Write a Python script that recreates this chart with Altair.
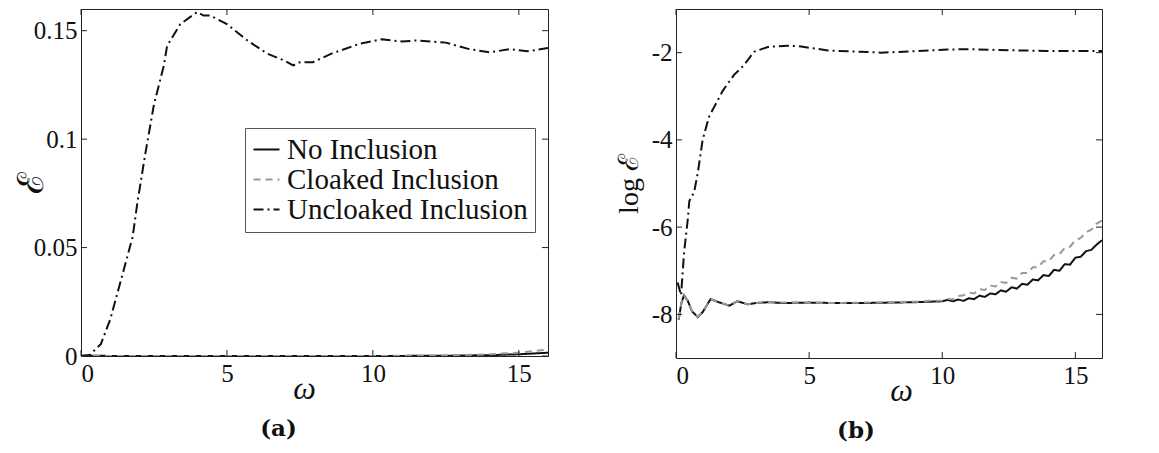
import altair as alt
import pandas as pd

NO = "No Inclusion"
CL = "Cloaked Inclusion"
UN = "Uncloaked Inclusion"
SERIES = [NO, CL, UN]

# ---------- panel (a): E versus omega ----------
a_unc_w = [0, 0.3, 0.68, 1.0, 1.47, 1.77, 1.93, 2.2, 2.5, 2.84, 2.95, 3.4, 3.98, 4.2,
           4.43, 5.0, 5.7, 6.37, 7.0, 7.27, 7.5, 7.95, 8.6, 9.55, 10.3, 11.0, 11.5,
           12.5, 13.3, 14.0, 14.7, 15.3, 16.0]
a_unc_e = [0, 0.0005, 0.0055, 0.0168, 0.040, 0.055, 0.0705, 0.093, 0.116, 0.134, 0.143,
           0.153, 0.1586, 0.157, 0.157, 0.153, 0.1455, 0.1395, 0.136, 0.134, 0.1355,
           0.1355, 0.1395, 0.144, 0.146, 0.145, 0.1455, 0.1445, 0.1415, 0.140, 0.1415,
           0.1405, 0.142]
a_no_w = [0, 2, 4, 6, 8, 10, 12, 13, 14, 15, 16]
a_no_e = [0.0001, 0, 0, 0, 0, 0, 0.0001, 0.0002, 0.0004, 0.0008, 0.0015]
a_cl_w = [0, 2, 4, 6, 8, 10, 12, 13, 14, 15, 16]
a_cl_e = [0.0001, 0, 0, 0, 0, 0, 0.0002, 0.0004, 0.0008, 0.0016, 0.0030]

# ---------- panel (b): log E versus omega ----------
b_no_w = [0.1, 0.2, 0.3, 0.45, 0.6, 0.82, 1.0, 1.3, 1.6, 2.0, 2.3, 2.7, 3.0, 3.5, 4.0,
          5.0, 6.0, 7.0, 8.0, 9.0, 9.5, 10.0, 10.2, 10.4, 10.6, 10.8, 11.0, 11.2, 11.4,
          11.6, 11.8, 12.0, 12.2, 12.4, 12.6, 12.8, 13.0, 13.2, 13.4, 13.6, 13.8, 14.0,
          14.2, 14.4, 14.6, 14.8, 15.0, 15.2, 15.4, 15.6, 15.8, 16.0]
b_no_e = [-8.12, -7.75, -7.56, -7.70, -7.93, -8.06, -7.95, -7.65, -7.72, -7.80, -7.70,
          -7.77, -7.74, -7.72, -7.74, -7.73, -7.74, -7.74, -7.73, -7.72, -7.71, -7.70,
          -7.67, -7.70, -7.66, -7.69, -7.63, -7.65, -7.57, -7.60, -7.52, -7.54, -7.45,
          -7.48, -7.38, -7.41, -7.30, -7.32, -7.20, -7.22, -7.10, -7.12, -6.98, -7.00,
          -6.85, -6.86, -6.70, -6.68, -6.55, -6.52, -6.40, -6.30]
b_cl_w = [0.1, 0.2, 0.3, 0.45, 0.6, 0.82, 1.0, 1.3, 1.6, 2.0, 2.3, 2.7, 3.0, 3.5, 4.0,
          5.0, 6.0, 7.0, 8.0, 9.0, 9.5, 10.0, 10.2, 10.4, 10.6, 10.8, 11.0, 11.2, 11.4,
          11.6, 11.8, 12.0, 12.2, 12.4, 12.6, 12.8, 13.0, 13.2, 13.4, 13.6, 13.8, 14.0,
          14.2, 14.4, 14.6, 14.8, 15.0, 15.2, 15.4, 15.6, 15.8, 16.0]
b_cl_e = [-8.10, -7.74, -7.56, -7.70, -7.93, -8.05, -7.95, -7.65, -7.72, -7.80, -7.70,
          -7.77, -7.74, -7.72, -7.73, -7.73, -7.74, -7.73, -7.72, -7.71, -7.69, -7.68,
          -7.64, -7.66, -7.58, -7.56, -7.50, -7.52, -7.42, -7.44, -7.34, -7.36, -7.26,
          -7.28, -7.16, -7.18, -7.05, -7.05, -6.92, -6.92, -6.78, -6.78, -6.64, -6.62,
          -6.48, -6.45, -6.30, -6.25, -6.12, -6.06, -5.92, -5.85]
b_unc_w = [0.06, 0.19, 0.3, 0.45, 0.5, 0.68, 0.82, 1.0, 1.24, 1.43, 1.76, 2.18, 2.55,
           2.93, 3.45, 4.2, 4.7, 5.7, 6.5, 7.7, 8.9, 10.2, 11.0, 12.1, 13.0, 13.9, 15.0,
           16.0]
b_unc_e = [-7.27, -7.56, -6.60, -5.78, -5.40, -5.20, -4.75, -4.00, -3.47, -3.25, -2.87,
           -2.51, -2.29, -1.98, -1.87, -1.84, -1.86, -1.95, -1.97, -2.00, -1.97, -1.93,
           -1.92, -1.94, -1.95, -1.96, -1.96, -1.96]

x_ticks = [0, 5, 10, 15]
a_y_ticks = [0, 0.05, 0.1, 0.15]
b_y_ticks = [-8, -6, -4, -2]

FONT = "Liberation Serif"


def frame(series_list):
    rows = []
    for name, ws, es in series_list:
        for w, e in zip(ws, es):
            rows.append({"s": name, "w": w, "e": e})
    return pd.DataFrame(rows)


def panel(df, ydom, yticks, ytitle, ytitle_size, ytitle_x, xtitle_x, caption, cap_dx,
          legend, W, H):
    xs = alt.Scale(domain=[0, 16], nice=False, zero=False)
    ys = alt.Scale(domain=ydom, nice=False, zero=False)
    xa = alt.Axis(
        values=x_ticks, ticks=False, domain=False, grid=False, labelFontSize=25,
        labelPadding=5, labelFont=FONT, labelColor="#111", labelExpr="datum.value",
        title="ω", titleFont=FONT, titleFontSize=32, titleFontStyle="italic",
        titleFontWeight="normal", titleX=xtitle_x, titleY=32, titleBaseline="middle",
        titleColor="#111")
    ya = alt.Axis(
        values=yticks, ticks=False, domain=False, grid=False, labelFontSize=25,
        labelPadding=4, labelFont=FONT, labelColor="#111", labelExpr="datum.value",
        title=ytitle, titleFont=FONT, titleFontSize=ytitle_size,
        titleFontWeight="normal", titleX=ytitle_x, titleBaseline="middle",
        titleColor="#111")
    cs = alt.Scale(domain=SERIES, range=["#111111", "#999999", "#111111"])
    ds = alt.Scale(domain=SERIES, range=[[1, 0], [7, 5], [10, 4, 2, 4]])
    lines = alt.Chart(df).mark_line(strokeWidth=2, clip=True).encode(
        x=alt.X("w:Q", scale=xs, axis=xa),
        y=alt.Y("e:Q", scale=ys, axis=ya),
        color=alt.Color("s:N", scale=cs, legend=legend),
        strokeDash=alt.StrokeDash("s:N", scale=ds, legend=legend),
    )
    xt = pd.DataFrame({"t": x_ticks})
    yt = pd.DataFrame({"t": yticks})
    tick_len = 6
    bx = alt.Chart(xt).mark_rule(color="#222").encode(
        x=alt.X("t:Q", scale=xs, axis=xa), y=alt.value(H), y2=alt.value(H - tick_len))
    tx = alt.Chart(xt).mark_rule(color="#222").encode(
        x=alt.X("t:Q", scale=xs, axis=xa), y=alt.value(0), y2=alt.value(tick_len))
    ly = alt.Chart(yt).mark_rule(color="#222").encode(
        y=alt.Y("t:Q", scale=ys, axis=ya), x=alt.value(0), x2=alt.value(tick_len))
    ry = alt.Chart(yt).mark_rule(color="#222").encode(
        y=alt.Y("t:Q", scale=ys, axis=ya), x=alt.value(W), x2=alt.value(W - tick_len))
    return alt.layer(lines, bx, tx, ly, ry).properties(
        width=W, height=H,
        title=alt.TitleParams(caption, orient="bottom", anchor="middle", dx=cap_dx,
                              offset=14, font="DejaVu Serif", fontSize=23,
                              fontWeight="bold", color="#111"))


df_a = frame([(NO, a_no_w, a_no_e), (CL, a_cl_w, a_cl_e), (UN, a_unc_w, a_unc_e)])
df_b = frame([(NO, b_no_w, b_no_e), (CL, b_cl_w, b_cl_e), (UN, b_unc_w, b_unc_e)])

leg = alt.Legend(orient="none", legendX=164, legendY=119, title=None, symbolType="stroke",
                 symbolSize=676, symbolStrokeWidth=2, labelFontSize=29, labelFont=FONT,
                 labelColor="#111", labelLimit=0, strokeColor="#555", fillColor="white",
                 padding=7, rowPadding=0, labelOffset=6)

left = panel(df_a, [0, 0.16], a_y_ticks, "ℰ", 36, -50, 223, "(a)", -36, leg, 467, 347)
right = panel(df_b, [-9, -1], b_y_ticks, "log ℰ", 28, -47, 225, "(b)", -33, None, 426, 349)

chart = alt.hconcat(left, right, spacing=65).resolve_scale(
    color="independent", strokeDash="independent"
).resolve_legend(
    color="independent", strokeDash="independent"
).properties(
    padding={"left": 4, "top": 0, "right": 0, "bottom": 0}
).configure(font=FONT).configure_legend(
    labelFont=FONT, labelFontSize=29, labelLimit=0
).configure_view(stroke="#222", strokeWidth=1)

chart.save("out.html", embed_options={"renderer": "svg", "actions": False})
